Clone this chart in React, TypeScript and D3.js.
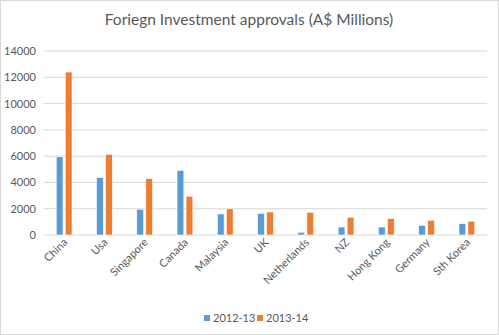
import React from "react";
import * as d3 from "d3";

const categories = ["China", "Usa", "Singapore", "Canada", "Malaysia", "UK", "Netherlands", "NZ", "Hong Kong", "Germany", "Sth Korea"];
const series1Name = "2012-13";
const series2Name = "2013-14";
const series1 = [5950, 4360, 1960, 4920, 1600, 1650, 210, 610, 610, 740, 860];
const series2 = [12400, 6140, 4290, 2950, 1990, 1750, 1730, 1350, 1250, 1120, 1050];
const yTicks = [0, 2000, 4000, 6000, 8000, 10000, 12000, 14000];

const W = 499, H = 335;
const FONT = "Lato, 'Liberation Sans', sans-serif";
const TEXT = "#595959";
const C1 = "#5B9BD5";
const C2 = "#ED7D31";

export default function App() {
  const x = d3.scaleBand<string>().domain(categories).range([44, 487]);
  const y = d3.scaleLinear().domain([0, 14000]).range([235, 51]);
  const bw = 6.8;
  const gap = 2.2;
  return (
    <svg width={W} height={H} style={{ position: "absolute", left: 0, top: 0, background: "#fff" }}>
      <rect x={0.5} y={0.5} width={W - 1} height={H - 1} fill="#fff" stroke="#D9D9D9" />
      <text x={249} y={25} textAnchor="middle" fontFamily={FONT} fontSize={15.5} fill={TEXT}>
        Foriegn Investment approvals (A$ Millions)
      </text>
      {yTicks.map((t) => (
        <g key={t}>
          <line x1={44} x2={487} y1={y(t)} y2={y(t)} stroke="#D9D9D9" strokeWidth={1} />
          <text x={36} y={y(t) + 4} textAnchor="end" fontFamily={FONT} fontSize={11} fill={TEXT}>
            {t}
          </text>
        </g>
      ))}
      {categories.map((c, i) => {
        const cx = (x(c) as number) + x.bandwidth() / 2;
        return (
          <g key={c}>
            <rect x={cx - gap / 2 - bw} y={y(series1[i])} width={bw} height={y(0) - y(series1[i])} fill={C1} stroke="#fff" strokeWidth={0.6} />
            <rect x={cx + gap / 2} y={y(series2[i])} width={bw} height={y(0) - y(series2[i])} fill={C2} stroke="#fff" strokeWidth={0.6} />
            <text
              transform={`translate(${cx + 4},${243}) rotate(-45)`}
              textAnchor="end"
              fontFamily={FONT}
              fontSize={11}
              fill={TEXT}
            >
              {c}
            </text>
          </g>
        );
      })}
      <rect x={204} y={315} width={6} height={6} fill={C1} />
      <text x={213} y={321.5} fontFamily={FONT} fontSize={11} fill={TEXT}>{series1Name}</text>
      <rect x={257} y={315} width={6} height={6} fill={C2} />
      <text x={266} y={321.5} fontFamily={FONT} fontSize={11} fill={TEXT}>{series2Name}</text>
    </svg>
  );
}
